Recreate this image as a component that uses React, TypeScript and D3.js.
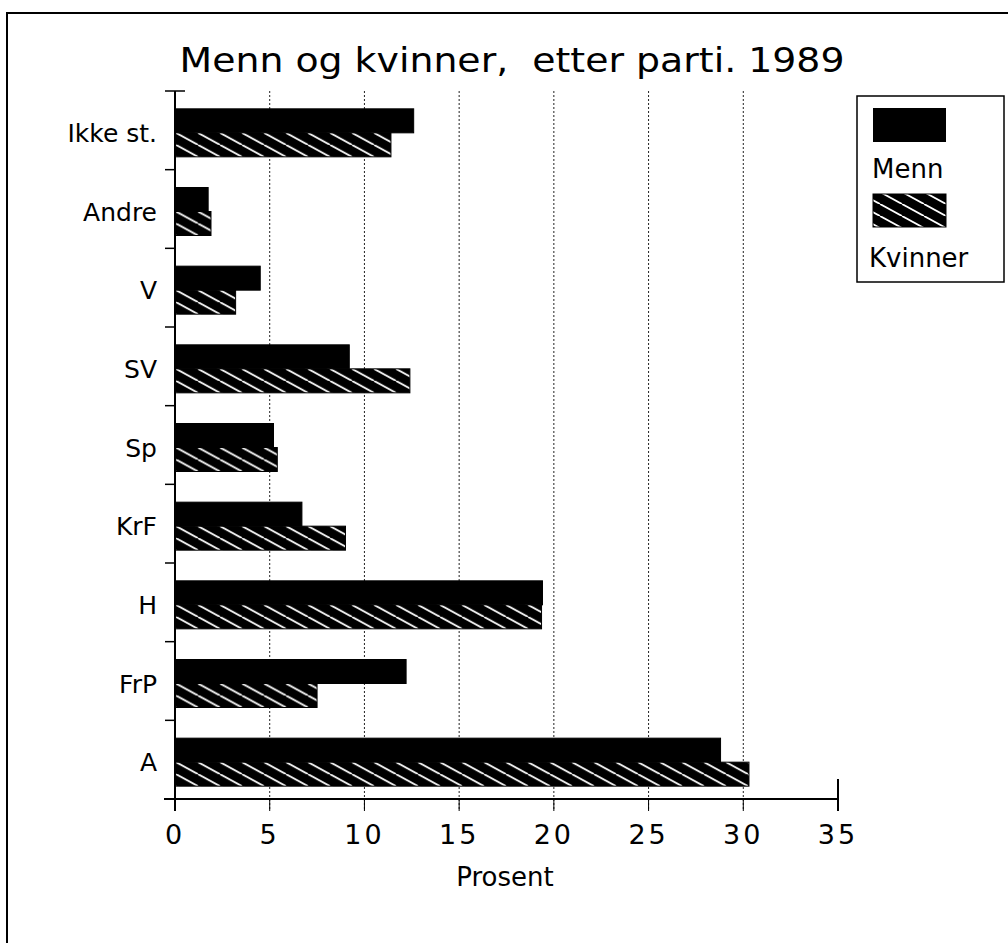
import React from "react";
import * as d3 from "d3";

const categories = ["Ikke st.", "Andre", "V", "SV", "Sp", "KrF", "H", "FrP", "A"];
const seriesNames = ["Menn", "Kvinner"];
const menn = [12.6, 1.75, 4.5, 9.2, 5.2, 6.7, 19.4, 12.2, 28.8];
const kvinner = [11.4, 1.9, 3.2, 12.4, 5.4, 9.0, 19.35, 7.5, 30.3];
const xTicks = [0, 5, 10, 15, 20, 25, 30, 35];
const title = "Menn og kvinner,  etter parti. 1989";
const xLabel = "Prosent";

const FONT = "'DejaVu Sans', sans-serif";

export default function App() {
  const W = 1008, H = 943;
  const x = d3.scaleLinear().domain([0, 35]).range([175, 838]);
  const y = d3.scaleBand<string>().domain(categories).range([91, 799]).paddingInner(0).paddingOuter(0);
  const groupH = 48;
  const y1 = d3.scaleBand<string>().domain(seriesNames).range([0, groupH]);
  const offset = (y.bandwidth() - groupH) / 2 + 2.5;
  const axisY = 799;
  const values = [menn, kvinner];

  const boundaries = [...categories.map((c) => y(c) as number), axisY];

  return (
    <svg width={W} height={H} style={{ position: "absolute", left: 0, top: 0, background: "#fff" }}>
      <defs>
        <pattern id="hatch" patternUnits="userSpaceOnUse" width={22} height={12}>
          <rect width={22} height={12} fill="#000" />
          <line x1={0} y1={0} x2={22} y2={12} stroke="#fff" strokeWidth={1.8} />
          <line x1={-22} y1={0} x2={0} y2={12} stroke="#fff" strokeWidth={1.8} />
          <line x1={22} y1={0} x2={44} y2={12} stroke="#fff" strokeWidth={1.8} />
        </pattern>
      </defs>
      {/* outer frame */}
      <rect x={7} y={13} width={1010} height={1000} fill="none" stroke="#000" strokeWidth={2} />

      {/* title */}
      <text x={512} y={72} textAnchor="middle" fontFamily={FONT} fontSize={34} textLength={665} lengthAdjust="spacingAndGlyphs" fill="#000" style={{ whiteSpace: "pre" }}>
        {title}
      </text>

      {/* gridlines */}
      {xTicks.filter((t) => t > 0 && t < 35).map((t) => (
        <line key={"g" + t} x1={x(t)} x2={x(t)} y1={91} y2={axisY + 11} stroke="#222" strokeWidth={1} strokeDasharray="2 2" />
      ))}

      {/* bars */}
      {categories.map((c, i) => (
        <g key={c} transform={`translate(0,${(y(c) as number) + offset})`}>
          {seriesNames.map((s, j) => (
            <rect
              key={s}
              x={x(0)}
              y={y1(s) as number}
              width={x(values[j][i]) - x(0)}
              height={y1.bandwidth()}
              fill={j === 0 ? "#000" : "url(#hatch)"}
              stroke="#000"
              strokeWidth={1}
            />
          ))}
        </g>
      ))}

      {/* y axis */}
      <line x1={175} x2={175} y1={91} y2={axisY} stroke="#000" strokeWidth={2} />
      {boundaries.map((b, i) => (
        <line key={"yt" + i} x1={165} x2={i === 0 ? 185 : 175} y1={b} y2={b} stroke="#000" strokeWidth={1.5} />
      ))}
      {categories.map((c) => (
        <text key={"l" + c} x={157} y={(y(c) as number) + offset + groupH / 2 + 9} textAnchor="end" fontFamily={FONT} fontSize={25} fill="#000">
          {c}
        </text>
      ))}

      {/* x axis */}
      <line x1={164} x2={838} y1={axisY} y2={axisY} stroke="#000" strokeWidth={2} />
      {xTicks.map((t) => (
        <line key={"xt" + t} x1={x(t)} x2={x(t)} y1={t === 35 ? axisY - 20 : axisY} y2={axisY + 12} stroke="#000" strokeWidth={t === 0 || t === 35 ? 2 : 1} />
      ))}
      {xTicks.map((t) => (
        <text key={"xl" + t} x={x(t)} y={844} textAnchor="middle" fontFamily={FONT} fontSize={27} letterSpacing={3} fill="#000">
          {t}
        </text>
      ))}
      <text x={505} y={886} textAnchor="middle" fontFamily={FONT} fontSize={26} fill="#000">
        {xLabel}
      </text>

      {/* legend */}
      <rect x={857} y={96} width={147} height={186} fill="#fff" stroke="#000" strokeWidth={1.5} />
      <rect x={873} y={108} width={73} height={34} fill="#000" />
      <text x={872} y={178} fontFamily={FONT} fontSize={26} fill="#000">{seriesNames[0]}</text>
      <rect x={873} y={194} width={73} height={33} fill="url(#hatch)" stroke="#000" strokeWidth={1} />
      <text x={869} y={267} fontFamily={FONT} fontSize={26} fill="#000">{seriesNames[1]}</text>
    </svg>
  );
}
